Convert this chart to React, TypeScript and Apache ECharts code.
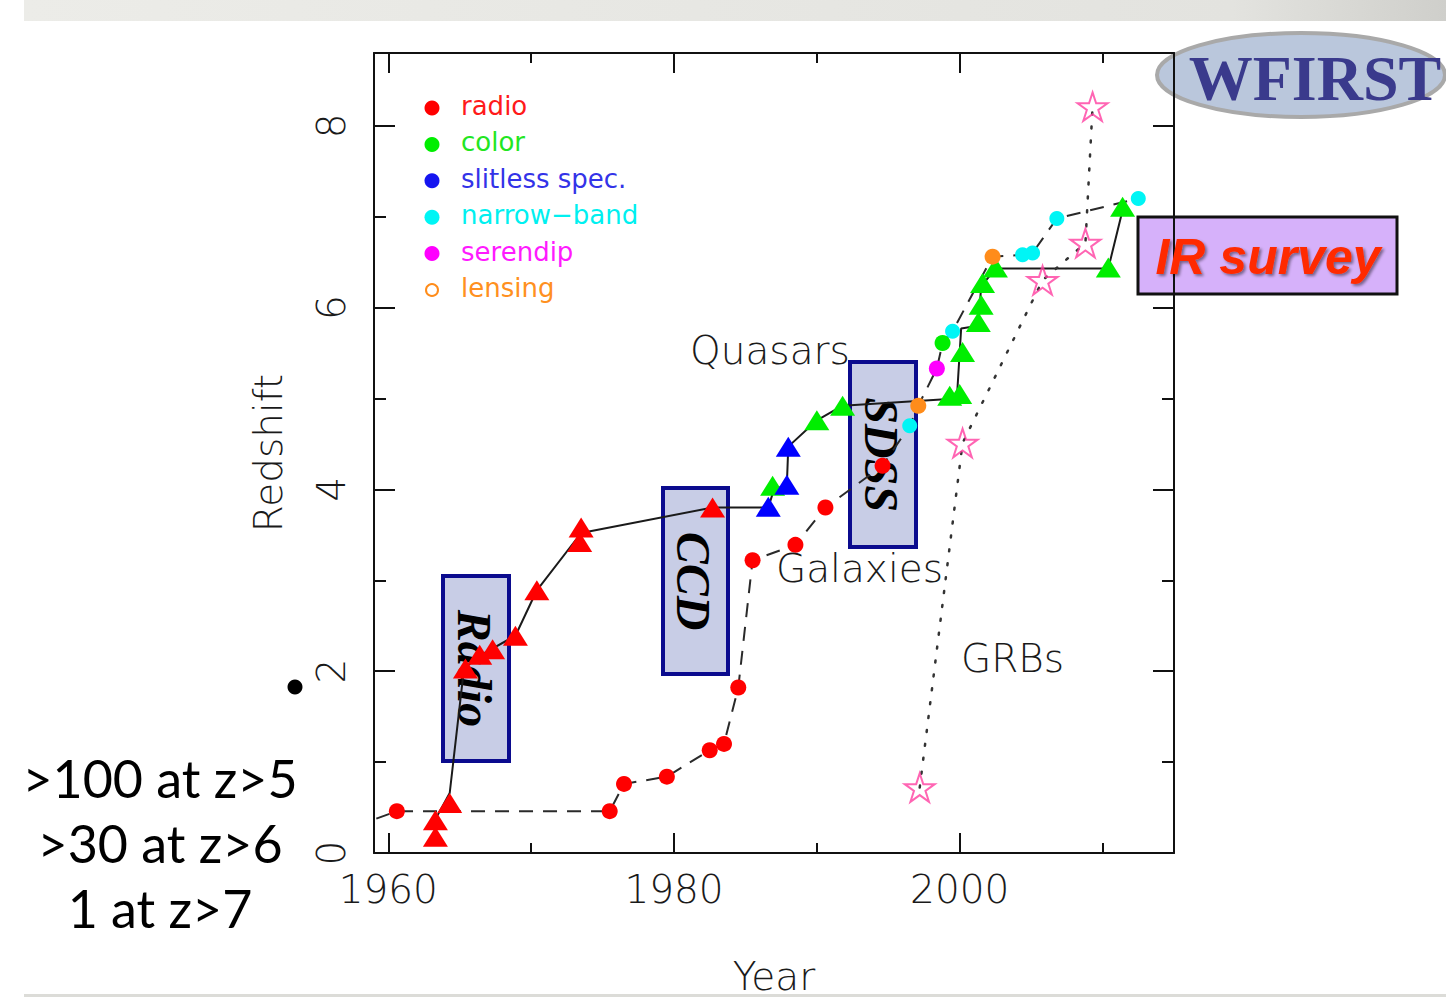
import { useEffect, useRef } from "react";
import * as echarts from "echarts";

// ---------- axis ranges & ticks ----------
const X_MIN = 1959;
const X_MAX = 2015;
const Y_MIN = 0;
const Y_MAX = 8.8;
const xTicksMajor = [1960, 1980, 2000];
const xTicksMinor = [1970, 1990, 2010];
const yTicksMajor = [0, 2, 4, 6, 8];
const yTicksMinor = [1, 3, 5, 7];

// ---------- quasars (triangles) by discovery method ----------
const qsoRadio: [number, number][] = [
  [1963.3, 0.18], [1963.3, 0.36], [1964.3, 0.55], [1965.4, 2.03], [1966.4, 2.18],
  [1967.3, 2.24], [1968.9, 2.39], [1970.4, 2.89], [1973.4, 3.42], [1973.5, 3.58],
  [1982.7, 3.8],
];
const qsoColor: [number, number][] = [
  [1986.9, 4.04], [1990.0, 4.76], [1991.8, 4.92], [1999.3, 5.03], [2000.0, 5.05],
  [2000.2, 5.51], [2001.3, 5.84], [2001.5, 6.03], [2001.6, 6.27], [2002.5, 6.44],
  [2010.4, 6.44], [2011.4, 7.11],
];
const qsoSlitless: [number, number][] = [
  [1986.6, 3.81], [1987.9, 4.05], [1988.0, 4.47],
];
// record redshift track for quasars (solid line)
const qsoRecord: [number, number][] = [
  [1963.3, 0.17], [1963.4, 0.4], [1964.3, 0.66], [1965.3, 2.03], [1966.5, 2.18],
  [1968.9, 2.39], [1970.4, 2.89], [1973.5, 3.52], [1982.7, 3.8], [1986.6, 3.8],
  [1987.0, 4.0], [1987.9, 4.05], [1988.0, 4.47], [1990.0, 4.76], [1991.8, 4.92],
  [1999.8, 5.0], [2000.1, 5.77], [2001.3, 5.8], [2001.5, 6.23], [2002.5, 6.43],
  [2010.4, 6.43], [2011.4, 7.07],
];

// ---------- galaxies (circles) by discovery method ----------
const galRadio: [number, number][] = [
  [1960.6, 0.46], [1975.5, 0.46], [1976.5, 0.76], [1979.5, 0.84], [1982.5, 1.13],
  [1983.5, 1.2], [1984.5, 1.82], [1985.5, 3.22], [1988.5, 3.39], [1990.6, 3.8],
  [1994.6, 4.26],
];
const galColor: [number, number][] = [[1998.8, 5.61]];
const galNarrow: [number, number][] = [
  [1996.5, 4.7], [1999.5, 5.74], [2004.4, 6.58], [2005.1, 6.6], [2006.8, 6.98],
  [2012.5, 7.2],
];
const galSerendip: [number, number][] = [[1998.4, 5.33]];
const galLensing: [number, number][] = [[1997.1, 4.92], [2002.3, 6.56]];
const galEarlier: [number, number][] = [[1956.0, 0.2]];

// ---------- gamma-ray bursts (stars) ----------
const grbs: [number, number][] = [
  [1997.2, 0.72], [2000.2, 4.51], [2005.8, 6.3], [2008.8, 6.71], [2009.3, 8.21],
];

// ---------- legend ----------
const legendNames = ["radio", "color", "slitless spec.", "narrow\u2212band", "serendip", "lensing"];
const legendColors = ["#ff0000", "#00ee00", "#1515f0", "#00f5f5", "#ff00ff", "#ff8c1a"];
const legendTextColors = ["#ff1a1a", "#22e622", "#3333e8", "#00f0f0", "#ff1aff", "#ff9020"];

const sideNotes = [">100 at z>5", ">30 at z>6", "1 at z>7"];

const RED = "#ff0000";
const GREEN = "#00ee00";
const BLUE = "#0000ff";
const CYAN = "#00f5f5";
const MAGENTA = "#ff00ff";
const ORANGE = "#ff8c1a";
const STAR = "#ff3fa0";
const STAR_PATH =
  "path://M0,-10L2.245,-3.09L9.51,-3.09L3.633,1.18L5.88,8.09L0,3.82L-5.88,8.09L-3.633,1.18L-9.51,-3.09L-2.245,-3.09Z";

const FONT = "'DejaVu Sans', sans-serif";
const AXIS_COLOR = "#111";
const TEXT_COLOR = "#1a1a1a";

function buildOption(): any {
  const galaxyTrack = [...galEarlier, ...galRadio, ...galColor, ...galNarrow, ...galSerendip, ...galLensing]
    .slice()
    .sort((a, b) => a[0] - b[0]);

  const baseX = {
    type: "value",
    min: X_MIN,
    max: X_MAX,
    splitLine: { show: false },
    z: 10,
  };
  const baseY = {
    type: "value",
    min: Y_MIN,
    max: Y_MAX,
    splitLine: { show: false },
    z: 10,
  };
  const line = { show: true, onZero: false, lineStyle: { color: AXIS_COLOR, width: 2 } };
  const noLine = { show: false, onZero: false };
  const tick = (vals: number[], len: number) => ({
    show: true,
    inside: true,
    length: len,
    customValues: vals,
    lineStyle: { color: AXIS_COLOR, width: 2 },
  });

  const scatter = (name: string, data: [number, number][], symbol: string, size: any, color: string) => ({
    name,
    type: "scatter",
    data,
    symbol,
    symbolSize: size,
    itemStyle: { color, opacity: 1 },
    z: 4,
  });

  const legendEls: any[] = [];
  legendNames.forEach((n, i) => {
    const cy = 108 + i * 36.4;
    legendEls.push({
      type: "circle",
      shape: { cx: 432, cy, r: i === 5 ? 6 : 7.5 },
      style: i === 5
        ? { fill: "#fff", stroke: legendColors[i], lineWidth: 2 }
        : { fill: legendColors[i] },
      z: 6,
    });
    legendEls.push({
      type: "text",
      x: 461,
      y: cy - 2,
      style: {
        text: n,
        font: `26px ${FONT}`,
        fill: legendTextColors[i],
        align: "left",
        verticalAlign: "middle",
      },
      z: 6,
    });
  });

  const boxes = [
    { label: "Radio", x: 443, y: 576, w: 66, h: 185 },
    { label: "CCD", x: 663, y: 488, w: 65, h: 186 },
    { label: "SDSS", x: 850, y: 362, w: 66, h: 185 },
  ];
  const boxEls: any[] = [];
  boxes.forEach((b) => {
    boxEls.push({
      type: "rect",
      shape: { x: b.x, y: b.y, width: b.w, height: b.h },
      style: { fill: "#c8cde6", stroke: "#0b0b8e", lineWidth: 4 },
      z: 1,
    });
    boxEls.push({
      type: "text",
      x: b.x + b.w / 2 - 2,
      y: b.y + b.h / 2,
      rotation: -Math.PI / 2,
      style: {
        text: b.label,
        font: "italic bold 48px 'Liberation Serif', serif",
        fill: "#000",
        align: "center",
        verticalAlign: "middle",
      },
      z: 1,
    });
  });

  const noteEls: any[] = sideNotes.map((t, i) => ({
    type: "text",
    x: 160,
    y: 778 + i * 65,
    style: {
      text: t,
      font: "52px Lato, sans-serif",
      fill: "#000",
      align: "center",
      verticalAlign: "middle",
    },
    z: 6,
  }));

  const axisText = { fontSize: 39, fontFamily: FONT, fontWeight: 200, color: TEXT_COLOR };

  return {
    animation: false,
    backgroundColor: "#ffffff",
    grid: { left: 374, top: 53, width: 800, height: 800, containLabel: false, outerBoundsMode: "none" },
    xAxis: [
      {
        ...baseX,
        position: "bottom",
        axisLine: line,
        axisTick: tick(xTicksMajor, 20),
        axisLabel: {
          show: true,
          customValues: xTicksMajor,
          margin: 17,
          formatter: (v: number) => String(v),
          ...axisText,
        },
        name: "Year",
        nameLocation: "middle",
        nameGap: 108,
        nameTextStyle: { ...axisText, lineHeight: 30 },
      },
      { ...baseX, position: "bottom", axisLine: noLine, axisTick: tick(xTicksMinor, 10), axisLabel: { show: false } },
      { ...baseX, position: "top", axisLine: line, axisTick: tick(xTicksMajor, 20), axisLabel: { show: false } },
      { ...baseX, position: "top", axisLine: noLine, axisTick: tick(xTicksMinor, 10), axisLabel: { show: false } },
    ],
    yAxis: [
      {
        ...baseY,
        position: "left",
        axisLine: line,
        axisTick: tick(yTicksMajor, 21),
        axisLabel: {
          show: true,
          customValues: yTicksMajor,
          rotate: 90,
          margin: 23,
          formatter: (v: number) => String(v),
          ...axisText,
        },
        name: "Redshift",
        nameLocation: "middle",
        nameRotate: 90,
        nameGap: 86,
        nameTextStyle: axisText,
      },
      { ...baseY, position: "left", axisLine: noLine, axisTick: tick(yTicksMinor, 12), axisLabel: { show: false } },
      { ...baseY, position: "right", axisLine: line, axisTick: tick(yTicksMajor, 21), axisLabel: { show: false } },
      { ...baseY, position: "right", axisLine: noLine, axisTick: tick(yTicksMinor, 12), axisLabel: { show: false } },
    ],
    series: [
      {
        name: "Galaxies track",
        type: "line",
        data: galaxyTrack,
        symbol: "none",
        lineStyle: { color: "#2a2a2a", width: 2, type: [14, 10] },
        z: 2,
      },
      {
        name: "Quasars track",
        type: "line",
        data: qsoRecord,
        symbol: "none",
        lineStyle: { color: "#1a1a1a", width: 2 },
        z: 2,
      },
      {
        name: "GRBs track",
        type: "line",
        data: grbs,
        symbol: "none",
        lineStyle: { color: "#333", width: 2.5, type: [2, 12], cap: "round" },
        z: 2,
      },
      scatter("radio quasars", qsoRadio, "triangle", [25, 20], RED),
      scatter("color quasars", qsoColor, "triangle", [25, 20], GREEN),
      scatter("slitless quasars", qsoSlitless, "triangle", [25, 20], BLUE),
      scatter("radio galaxies", galRadio, "circle", 16, RED),
      scatter("color galaxies", galColor, "circle", 16, GREEN),
      scatter("narrow-band galaxies", galNarrow, "circle", 15, CYAN),
      scatter("serendip galaxies", galSerendip, "circle", 16, MAGENTA),
      scatter("lensing galaxies", galLensing, "circle", 16, ORANGE),
      {
        name: "GRBs",
        type: "scatter",
        data: grbs,
        symbol: STAR_PATH,
        symbolSize: 30,
        symbolKeepAspect: true,
        itemStyle: { color: "rgba(255,255,255,0)", borderColor: STAR, borderWidth: 2 },
        z: 4,
      },
    ],
    graphic: {
      elements: [
        {
          type: "rect",
          shape: { x: 24, y: 0, width: 1422, height: 21 },
          style: {
            fill: new echarts.graphic.LinearGradient(0, 0, 1, 0, [
              { offset: 0, color: "#ececE8" },
              { offset: 0.85, color: "#e3e3df" },
              { offset: 1, color: "#cfcfcb" },
            ]),
          },
          z: 0,
          silent: true,
        },
        {
          type: "rect",
          shape: { x: 24, y: 994, width: 1422, height: 3 },
          style: { fill: "#dcdcd8" },
          z: 0,
          silent: true,
        },
        ...boxEls,
        ...legendEls,
        {
          type: "text",
          x: 690,
          y: 350,
          style: { text: "Quasars", font: `200 39px ${FONT}`, fill: TEXT_COLOR, align: "left", verticalAlign: "middle" },
          z: 6,
        },
        {
          type: "text",
          x: 776,
          y: 568,
          style: { text: "Galaxies", font: `200 39px ${FONT}`, fill: TEXT_COLOR, align: "left", verticalAlign: "middle" },
          z: 6,
        },
        {
          type: "text",
          x: 961,
          y: 658,
          style: { text: "GRBs", font: `200 39px ${FONT}`, fill: TEXT_COLOR, align: "left", verticalAlign: "middle" },
          z: 6,
        },
        ...noteEls,
        { type: "circle", shape: { cx: 295, cy: 687, r: 7.5 }, style: { fill: "#000" }, z: 6 },
        {
          type: "ellipse",
          shape: { cx: 1301, cy: 75, rx: 144, ry: 42 },
          style: { fill: "rgba(160,178,206,0.72)", stroke: "#a9a9a9", lineWidth: 4 },
          z: 5,
        },
        {
          type: "text",
          x: 1315,
          y: 78,
          style: {
            text: "WFIRST",
            font: "bold 64px 'Liberation Serif', serif",
            fill: "#3a3a8c",
            align: "center",
            verticalAlign: "middle",
          },
          z: 15,
        },
        {
          type: "rect",
          shape: { x: 1138, y: 217, width: 259, height: 77 },
          style: { fill: "#d6b1fa", stroke: "#111", lineWidth: 3 },
          z: 5,
        },
        {
          type: "text",
          x: 1268,
          y: 257,
          style: {
            text: "IR survey",
            font: "italic bold 50px 'Liberation Sans', sans-serif",
            fill: "#ff2a00",
            align: "center",
            verticalAlign: "middle",
            textShadowColor: "rgba(0,0,0,0.45)",
            textShadowBlur: 3,
            textShadowOffsetX: 2,
            textShadowOffsetY: 2,
          },
          z: 15,
        },
      ],
    },
  };
}

export default function App() {
  const ref = useRef<HTMLDivElement>(null);
  useEffect(() => {
    if (!ref.current) return;
    const chart = echarts.init(ref.current, null, { renderer: "svg" });
    chart.setOption(buildOption());
    return () => chart.dispose();
  }, []);
  return (
    <div
      ref={ref}
      style={{ position: "fixed", left: 0, top: 0, width: 1446, height: 997, background: "#fff" }}
    />
  );
}
